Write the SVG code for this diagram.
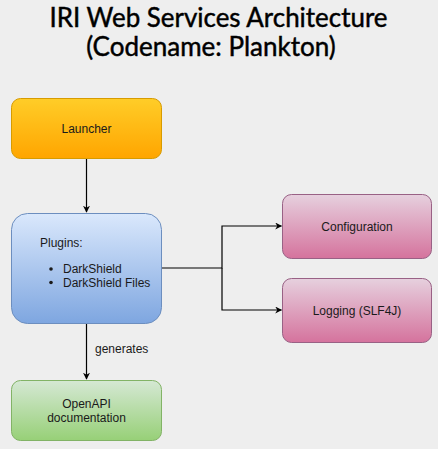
<svg xmlns="http://www.w3.org/2000/svg" width="438" height="449" viewBox="0 0 438 449">
<defs>
<linearGradient id="gY" x1="0" y1="0" x2="0" y2="1"><stop offset="0" stop-color="#ffcd28"/><stop offset="1" stop-color="#ffa500"/></linearGradient>
<linearGradient id="gB" x1="0" y1="0" x2="0" y2="1"><stop offset="0" stop-color="#dae8fc"/><stop offset="1" stop-color="#7ea6e0"/></linearGradient>
<linearGradient id="gP" x1="0" y1="0" x2="0" y2="1"><stop offset="0" stop-color="#e6d0de"/><stop offset="1" stop-color="#d5739d"/></linearGradient>
<linearGradient id="gG" x1="0" y1="0" x2="0" y2="1"><stop offset="0" stop-color="#d5e8d4"/><stop offset="1" stop-color="#97d077"/></linearGradient>
<marker id="arr" viewBox="0 0 10 10" refX="9" refY="5" markerWidth="7" markerHeight="7" markerUnits="userSpaceOnUse" orient="auto">
<path d="M0,0 L10,5 L0,10 L3,5 Z" fill="#000"/>
</marker>
<style>
.t{font-family:"Liberation Sans",Arial,sans-serif;font-size:12px;fill:#1a1a1a}
.title{font-family:Lato,"Liberation Sans",sans-serif;font-size:26px;fill:#000;stroke:#000;stroke-width:0.45;text-anchor:middle}
.c{fill:none;stroke:#000;stroke-width:1.2}
</style>
</defs>
<rect width="438" height="449" fill="#eeeeee"/>
<g id="title">
<text class="title" x="218.5" y="27" textLength="338" lengthAdjust="spacingAndGlyphs">IRI Web Services Architecture</text>
<text class="title" x="211" y="56">(Codename: Plankton)</text>
</g>
<g id="connectors">
<path class="c" d="M86.5,158 V212" marker-end="url(#arr)"/>
<path class="c" d="M161.5,268 H222 V226 H281.5" marker-end="url(#arr)"/>
<path class="c" d="M222,268 V310 H281.5" marker-end="url(#arr)"/>
<path class="c" d="M86.5,323 V379" marker-end="url(#arr)"/>
<text class="t" x="95" y="353">generates</text>
</g>
<g id="launcher">
<rect x="11.5" y="98.5" width="150" height="60" rx="9" fill="url(#gY)" stroke="#d79b00"/>
<text class="t" x="86.5" y="132.5" text-anchor="middle">Launcher</text>
</g>
<g id="plugins">
<rect x="11.5" y="213.5" width="150" height="110" rx="16" fill="url(#gB)" stroke="#6c8ebf"/>
<text class="t" x="40" y="247">Plugins:</text>
<circle cx="51" cy="269" r="1.8" fill="#1a1a1a"/>
<text class="t" x="63" y="273">DarkShield</text>
<circle cx="51" cy="282.5" r="1.8" fill="#1a1a1a"/>
<text class="t" x="63" y="286.5">DarkShield Files</text>
</g>
<g id="configuration">
<rect x="282.5" y="194.5" width="149" height="64" rx="9" fill="url(#gP)" stroke="#996185"/>
<text class="t" x="357" y="230.5" text-anchor="middle">Configuration</text>
</g>
<g id="logging">
<rect x="282.5" y="278.5" width="149" height="64" rx="9" fill="url(#gP)" stroke="#996185"/>
<text class="t" x="357" y="314.5" text-anchor="middle">Logging (SLF4J)</text>
</g>
<g id="openapi">
<rect x="11.5" y="380.5" width="150" height="60" rx="9" fill="url(#gG)" stroke="#82b366"/>
<text class="t" x="86.5" y="408" text-anchor="middle">OpenAPI</text>
<text class="t" x="86.5" y="422" text-anchor="middle">documentation</text>
</g>
</svg>
